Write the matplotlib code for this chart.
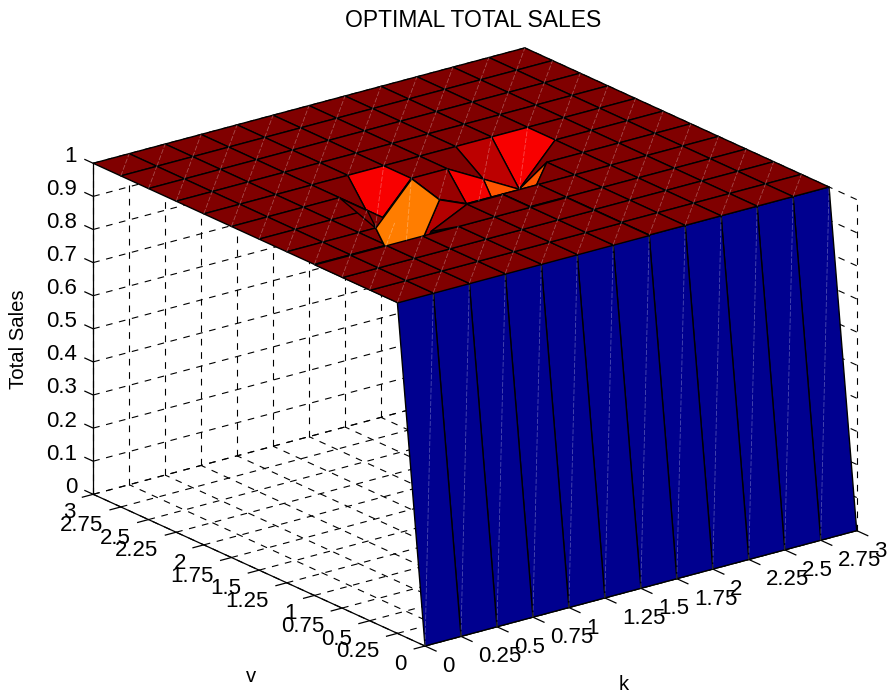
import numpy as np
import matplotlib
matplotlib.use("Agg")
import matplotlib.pyplot as plt
from matplotlib.colors import ListedColormap
from mpl_toolkits.mplot3d import proj3d
from mpl_toolkits.mplot3d.art3d import Poly3DCollection

plt.rcParams['font.family'] = ['Liberation Sans', 'DejaVu Sans']

W, H = 889, 696

# ---- data -------------------------------------------------------------
k_values = np.arange(13) * 0.25
v_values = np.arange(13) * 0.25
total_sales = np.ones((13, 13))          # row = v index, column = k index
total_sales[0, :] = 0.0                  # v = 0: no sales
dip_k = [1.0, 1.0, 1.0, 1.25, 1.5, 1.75, 1.75, 2.0]
dip_v = [1.75, 1.5, 1.25, 1.5, 1.5, 1.75, 1.5, 1.75]
dip_z = [0.88, 0.75, 0.947, 0.975, 0.886, 0.94, 0.79, 0.88]
for _k, _v, _z in zip(dip_k, dip_v, dip_z):
    total_sales[int(round(_v * 4)), int(round(_k * 4))] = _z

k_tick_labels = ['0', '0.25', '0.5', '0.75', '1', '1.25', '1.5', '1.75', '2', '2.25', '2.5', '2.75', '3']
v_tick_labels = list(k_tick_labels)
z_ticks = np.arange(11) / 10
z_tick_labels = ['0', '0.1', '0.2', '0.3', '0.4', '0.5', '0.6', '0.7', '0.8', '0.9', '1']
title_text = 'OPTIMAL TOTAL SALES'
z_label = 'Total Sales'
k_label = 'k'
v_label = 'v'

# MATLAB-style jet colour map
_t = np.linspace(0, 1, 256)
jet_m = ListedColormap(np.column_stack([
    np.interp(_t, [0, .375, .625, .875, 1], [0, 0, 1, 1, .5]),
    np.interp(_t, [0, .125, .375, .625, .875, 1], [0, 0, 1, 1, 0, 0]),
    np.interp(_t, [0, .125, .375, .625, 1], [.5625, 1, 1, 0, 0]),
]))

# ---- figure / view ------------------------------------------------------
fig = plt.figure(figsize=(W / 100, H / 100), dpi=100)
ax = fig.add_axes([0, 0, 1, 1], projection='3d', computed_zorder=False)
ax.set_proj_type('ortho')
ax.view_init(elev=20.46, azim=-127.4)
ax.set_xlim(0, 3, view_margin=0)
ax.set_ylim(0, 3, view_margin=0)
ax.set_zlim(0, 1, view_margin=0)
ax.set_box_aspect((543.4, 546.3, 353.3))
ax.set_axis_off()


def project(x, y, z):
    """Data coordinates to pixel coordinates (y measured from the top)."""
    px, py, _ = proj3d.proj_transform(x, y, z, ax.get_proj())
    dx, dy = ax.transData.transform((px, py))
    return dx, H - dy


# fit the box onto the target scale and position
fig.canvas.draw()
for _ in range(3):
    fig.canvas.draw()
    p0 = np.array(project(0, 0, 0))
    p1 = np.array(project(3, 0, 0))
    scale = 431.7 / (p1[0] - p0[0])
    pos = ax.get_position(original=True)
    ax.set_position([pos.x0, pos.y0, pos.width * scale, pos.height * scale])
    fig.canvas.draw()
    p0 = np.array(project(0, 0, 0))
    pos = ax.get_position(original=True)
    ax.set_position([pos.x0 + (425 - p0[0]) / W, pos.y0 + (p0[1] - 646) / H, pos.width, pos.height])
fig.canvas.draw()

grid_kw = dict(color='k', lw=0.8, dashes=(6, 6), zorder=1, clip_on=False)
for t in k_values:                                 # floor and back wall
    ax.plot([t, t], [0, 3], [0, 0], **grid_kw)
    ax.plot([t, t], [3, 3], [0, 1], **grid_kw)
for t in v_values:                                 # floor and side wall
    ax.plot([0, 3], [t, t], [0, 0], **grid_kw)
    ax.plot([3, 3], [t, t], [0, 1], **grid_kw)
for t in z_ticks:
    ax.plot([0, 3], [3, 3], [t, t], **grid_kw)
    ax.plot([3, 3], [0, 3], [t, t], **grid_kw)

axis_kw = dict(color='k', lw=0.9, zorder=2, clip_on=False)
ax.plot([0, 0], [3, 3], [0, 1], **axis_kw)
ax.plot([0, 0], [0, 3], [0, 0], **axis_kw)
ax.plot([0, 3], [0, 0], [0, 0], **axis_kw)
for t in v_values:
    ax.plot([0, -0.075], [t, t], [0, 0], **axis_kw)
for t in k_values:
    ax.plot([t, t], [0, -0.1], [0, 0], **axis_kw)
for t in z_ticks:
    ax.plot([0, 0], [3, 3.075], [t, t], **axis_kw)

# ---- surface ------------------------------------------------------------
K, V = np.meshgrid(k_values, v_values)
colours = jet_m(total_sales)
surf = ax.plot_surface(K, V, total_sales, rstride=1, cstride=1, facecolors=colours,
                       shade=False, antialiased=True, zorder=3)
surf.set_edgecolor('k')
surf.set_linewidth(1.0)


def cell_layer(cells, zorder):
    """Repaint some cells (v index, k index) over the surface, as the original renderer did."""
    for n, (i, j) in enumerate(cells):
        verts = [[(K[a, b], V[a, b], total_sales[a, b])
                  for a, b in ((i, j), (i, j + 1), (i + 1, j + 1), (i + 1, j))]]
        poly = Poly3DCollection(verts, facecolors=[colours[i, j]], edgecolors='k', linewidths=1.0)
        poly.set_zorder(zorder + n * 0.001)
        ax.add_collection3d(poly, autolim=False)


cell_layer([(6, 3), (5, 4), (6, 4)], 3.2)
cell_layer([(i, j) for i in (1, 2, 3) for j in range(0, 7)] + [(4, 4), (4, 5)], 3.4)

# faint diagonal seams of the rendered cells
seam_kw = dict(color='white', alpha=0.3, lw=0.6, dashes=(6, 2), zorder=4, clip_on=False)
for i in range(12):
    for j in range(12):
        cell = total_sales[i:i + 2, j:j + 2]
        if np.all(cell == 1) or i == 0:
            ax.plot([K[i, j], K[i + 1, j + 1]], [V[i, j], V[i + 1, j + 1]],
                    [total_sales[i, j], total_sales[i + 1, j + 1]], **seam_kw)
# seams on the visible parts of the dip cells: (v index, k index, visible start)
for i, j, s in [(7, 4, 0.0), (7, 8, 0.0), (7, 7, 0.0), (6, 4, 0.41), (6, 5, 0.0), (6, 6, 0.45)]:
    ax.plot([K[i, j] + s * .25, K[i + 1, j + 1]], [V[i, j] + s * .25, V[i + 1, j + 1]],
            [total_sales[i, j] + s * (total_sales[i + 1, j + 1] - total_sales[i, j]), total_sales[i + 1, j + 1]],
            **seam_kw)


# ---- text ---------------------------------------------------------------
def px_text(x, y, s, **kw):
    fig.text(x / W, 1 - y / H, s, **kw)


TICK_FS = 16
for t, lab in zip(z_ticks, z_tick_labels):
    x, y = project(0, 3, t)
    px_text(x - 16, y - 7, lab, ha='right', va='center', fontsize=TICK_FS)
for t, lab in zip(v_values, v_tick_labels):
    x, y = project(0, t, 0)
    px_text(x - 18, y + 18.5, lab, ha='right', va='center', fontsize=TICK_FS)
for t, lab in zip(k_values, k_tick_labels):
    x, y = project(t, 0, 0)
    px_text(x + 17.5, y + 20.5, lab, ha='left', va='center', fontsize=TICK_FS)

px_text(473, 20.5, title_text, ha='center', va='center', fontsize=16.5)
px_text(19, 339, z_label, ha='center', va='center', rotation=90, fontsize=14.6)
px_text(624, 684, k_label, ha='center', va='center', fontsize=14.6)
px_text(251, 676, v_label, ha='center', va='center', fontsize=14.6)

fig.savefig('out.png', dpi=100)
